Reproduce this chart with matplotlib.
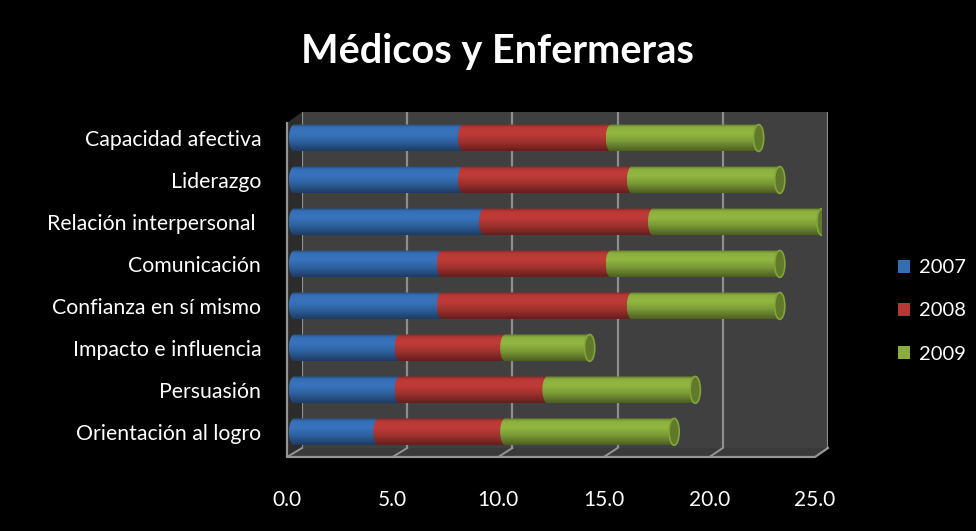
import matplotlib.pyplot as plt
import numpy as np
from matplotlib.patches import Polygon, Ellipse, Patch
from matplotlib.lines import Line2D

plt.rcParams['font.family'] = ['Lato', 'DejaVu Sans']

categorias = ['Capacidad afectiva', 'Liderazgo', 'Relación interpersonal ', 'Comunicación',
              'Confianza en sí mismo', 'Impacto e influencia', 'Persuasión', 'Orientación al logro']
v2007 = [8, 8, 9, 7, 7, 5, 5, 4]
v2008 = [7, 8, 8, 8, 9, 5, 7, 6]
v2009 = [7, 7, 8, 8, 7, 4, 7, 8]
series = ['2007', '2008', '2009']
colores = ['#356db3', '#b53835', '#8aad3d']
ticks = [0, 5, 10, 15, 20, 25]
titulo = 'Médicos y Enfermeras'

W, H = 976, 531


def fx(x):
    return x / W


def fy(y):
    return 1 - y / H


def box(x0, y0, x1, y1):
    # pixel box (top-left origin) -> figure rect
    return [fx(x0), fy(y1), fx(x1) - fx(x0), fy(y0) - fy(y1)]


def shade(rgb, n=64):
    t = np.linspace(0, 1, n)
    f = np.interp(t, [0, 0.12, 0.35, 0.65, 1.0], [0.72, 1.02, 1.06, 0.88, 0.55])
    img = np.clip(np.outer(f, rgb), 0, 1)
    return img.reshape(n, 1, 3)


def cylinder(ax, left, width, y, h, color, cap, last):
    rgb = np.array(plt.matplotlib.colors.to_rgb(color))
    right = left + width
    th = np.linspace(np.pi / 2, 3 * np.pi / 2, 40)
    verts = [(left + cap * np.cos(a), y + h / 2 * np.sin(a)) for a in th]
    verts += [(right, y - h / 2), (right, y + h / 2)]
    body = Polygon(verts, closed=True, fc='none', ec='none', transform=ax.transData)
    ax.add_patch(body)
    im = ax.imshow(shade(rgb), extent=[left - cap, right + cap, y + h / 2, y - h / 2],
                   aspect='auto', interpolation='bilinear', zorder=2)
    im.set_clip_path(body)
    if last:
        ax.add_patch(Ellipse((right, y), 2 * cap, h, fc=np.clip(rgb * 0.7, 0, 1),
                             ec=np.clip(rgb * 0.95, 0, 1), lw=1.2, zorder=3))


fig = plt.figure(figsize=(W / 100, H / 100), dpi=100, facecolor='black')

fig.text(fx(497), fy(52), titulo, color='white', fontsize=28.5, fontweight='bold',
         ha='center', va='center')

# back wall with gridlines
wall = fig.add_axes(box(302, 112, 828, 448), facecolor='#404040')
wall.set_zorder(-2)
wall.set_xlim(0, 25)
wall.set_ylim(0, 1)
for t in ticks:
    wall.axvline(t, color='#8e8e8e', lw=1.6)
wall.set_xticks([])
wall.set_yticks([])
for s in wall.spines.values():
    s.set_visible(False)

# left side wall, floor and edges
fig.patches.append(Polygon([(fx(287), fy(123)), (fx(302), fy(112)), (fx(302), fy(448)), (fx(287), fy(457))],
                           closed=True, fc='#2c2c2c', ec='none', transform=fig.transFigure, zorder=-3))
fig.patches.append(Polygon([(fx(287), fy(457)), (fx(815), fy(457)), (fx(828), fy(448)), (fx(302), fy(448))],
                           closed=True, fc='#3a3a3a', ec='none', transform=fig.transFigure, zorder=-3))
edge = '#959595'
fig.lines.append(Line2D([fx(287), fx(287), fx(815), fx(828)], [fy(123), fy(457), fy(457), fy(448)],
                        color=edge, lw=1.6, transform=fig.transFigure, zorder=-1))
for t in ticks[:-1]:
    xb = 302 + t / 25 * (828 - 302)
    xf = 287 + t / 25 * (815 - 287)
    fig.lines.append(Line2D([fx(xb), fx(xf)], [fy(448), fy(457)], color=edge, lw=1.4,
                            transform=fig.transFigure, zorder=-1))

# bars (axes starts half a unit left of zero so the rounded ends are not clipped)
px_unit = (822 - 294) / 25
ax = fig.add_axes(box(294 - 0.5 * px_unit, 112, 822, 457))
ax.patch.set_visible(False)
y = np.arange(len(categorias))
h = 0.64
cap = 0.24
lefts = np.zeros(len(categorias))
datos = [v2007, v2008, v2009]
for k, (vals, c) in enumerate(zip(datos, colores)):
    for i, v in enumerate(vals):
        cylinder(ax, lefts[i], v, y[i], h, c, cap, k == len(datos) - 1)
    lefts += np.array(vals)
ax.set_xlim(-0.5, 25)
ax.set_ylim(7.6, -0.62)
ax.set_xticks([])
ax.set_yticks(y)
ax.set_yticklabels(categorias, color='white', fontsize=15.3)
ax.tick_params(axis='y', length=0, pad=16)
for s in ax.spines.values():
    s.set_visible(False)

# x tick labels along the front edge of the floor
front = fig.add_axes(box(287, 300, 815, 457))
front.patch.set_visible(False)
front.set_xlim(0, 25)
front.set_xticks(ticks)
front.set_xticklabels(['%.1f' % t for t in ticks], color='white', fontsize=15)
front.tick_params(axis='x', length=0, pad=24)
front.set_yticks([])
for s in front.spines.values():
    s.set_visible(False)

handles = [Patch(fc=c, ec='none') for c in colores]
fig.legend(handles, series, loc='center left', bbox_to_anchor=(fx(880), fy(311)),
           frameon=False, labelcolor='white', fontsize=14.5, handlelength=0.6,
           handleheight=0.6, handletextpad=0.45, labelspacing=1.3)

fig.savefig('out.png', dpi=100, facecolor='black')
